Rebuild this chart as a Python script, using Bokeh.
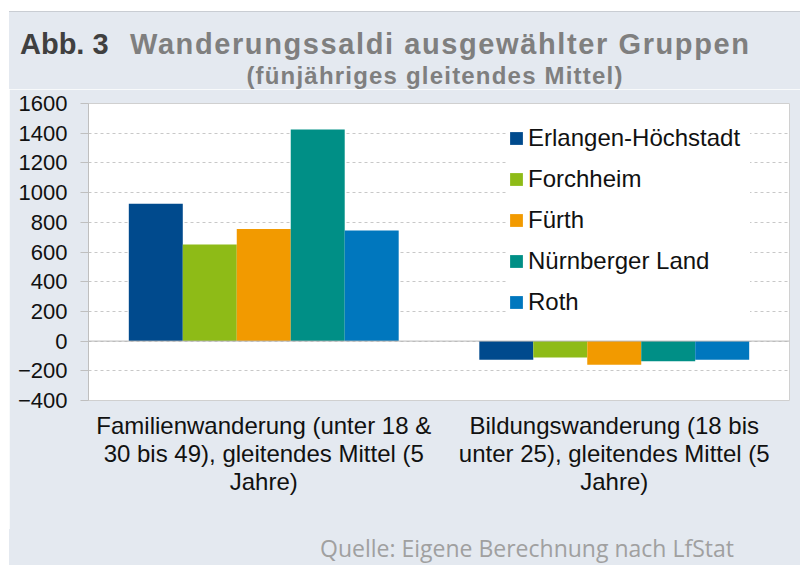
from bokeh.plotting import figure
from bokeh.models import (ColumnDataSource, Range1d, FactorRange, FixedTicker,
                          Span, Legend, LegendItem, Div)
from bokeh.layouts import column
from bokeh.transform import dodge
from bokeh.embed import file_html
from bokeh.resources import INLINE

# ---- data ----
categories = [
    "Familienwanderung (unter 18 &\n30 bis 49), gleitendes Mittel (5\nJahre)",
    "Bildungswanderung (18 bis\nunter 25), gleitendes Mittel (5\nJahre)",
]
series = ["Erlangen-Höchstadt", "Forchheim", "Fürth", "Nürnberger Land", "Roth"]
erlangen = [925, -125]
forchheim = [650, -110]
fuerth = [755, -160]
nuernberger = [1425, -135]
roth = [745, -125]
values = [erlangen, forchheim, fuerth, nuernberger, roth]
colors = ["#004a8d", "#8ebb17", "#f29a00", "#008f86", "#0077be"]
yticks = [-400, -200, 0, 200, 400, 600, 800, 1000, 1200, 1400, 1600]
title_prefix = "Abb. 3"
title_text = "Wanderungssaldi ausgewählter Gruppen"
subtitle_text = "(fünjähriges gleitendes Mittel)"
source_text = "Quelle: Eigene Berechnung nach LfStat"

FONT = "Liberation Sans"
BG = "#e4e9f0"
W = 791
HEAD_H = 78
FOOT_H = 36
FIG_H = 565 - 11 - HEAD_H - FOOT_H

# ---- header ----
header_html = f"""
<div style="position:relative;width:{W}px;height:{HEAD_H}px;overflow:hidden;background:{BG};">
  <div style="position:absolute;left:0;top:0;width:{W}px;height:1px;background:#c9cdd3;"></div>
  <span style="position:absolute;left:11px;top:19px;white-space:nowrap;line-height:1;
    font-family:'{FONT}';font-weight:bold;font-size:29px;color:#404040;">{title_prefix}</span>
  <span style="position:absolute;left:121px;top:19px;white-space:nowrap;line-height:1;letter-spacing:1.6px;
    font-family:'{FONT}';font-weight:bold;font-size:29px;color:#7f7f7f;">{title_text}</span>
  <div style="position:absolute;left:0;top:53px;width:852px;text-align:center;white-space:nowrap;
    line-height:1;letter-spacing:1.2px;font-family:'{FONT}';font-weight:bold;font-size:24px;
    color:#7f7f7f;">{subtitle_text}</div>
</div>
"""
header = Div(text=header_html, width=W, height=HEAD_H, margin=0,
             styles={"background-color": BG})

# ---- chart ----
p = figure(width=W, height=FIG_H, output_backend="svg", toolbar_location=None,
           x_range=FactorRange(factors=categories), y_range=Range1d(-400, 1600),
           min_border_left=79, min_border_right=11, min_border_top=14,
           min_border_bottom=FIG_H - 14 - 297)
p.border_fill_color = BG
p.background_fill_color = "white"
p.outline_line_color = "#d0d0d0"

bw = 0.154
items = []
for i, (name, vals, col) in enumerate(zip(series, values, colors)):
    src = ColumnDataSource(dict(cat=categories, val=vals))
    r = p.vbar(x=dodge("cat", (i - 2) * bw, range=p.x_range), top="val", width=bw,
               source=src, fill_color=col, line_color=None)
    items.append(LegendItem(label=name, renderers=[r]))

p.ygrid.grid_line_color = "#c8c8c8"
p.ygrid.grid_line_dash = "3 3"
p.xgrid.grid_line_color = None
p.add_layout(Span(location=0, dimension="width", line_color="#b5b5b5", line_width=1))

ya = p.yaxis[0]
ya.ticker = FixedTicker(ticks=yticks)
ya.major_label_text_font = FONT
ya.major_label_text_font_size = "22px"
ya.major_label_text_color = "#111111"
ya.major_tick_out = 8
ya.major_tick_in = 0
ya.major_tick_line_color = "#bfbfbf"
ya.axis_line_color = "#bfbfbf"
ya.minor_tick_line_color = None
ya.major_label_standoff = 13

xa = p.xaxis[0]
xa.axis_line_color = None
xa.major_tick_line_color = None
xa.minor_tick_line_color = None
xa.major_label_text_font = FONT
xa.major_label_text_font_size = "24px"
xa.major_label_text_color = "#111111"
xa.major_label_text_line_height = 1.05
xa.major_label_standoff = 5
xa.major_label_orientation = "horizontal"

legend = Legend(items=items, location=(420, 84), orientation="vertical",
                label_text_font=FONT, label_text_font_size="24px", label_text_color="#111111",
                glyph_width=16, glyph_height=16, label_standoff=4, spacing=13,
                padding=21, margin=0, label_height=28, label_width=222,
                border_line_color=None, background_fill_color="white",
                background_fill_alpha=1.0)
p.add_layout(legend)

# ---- footer ----
footer_html = f"""
<div style="position:relative;width:{W}px;height:{FOOT_H}px;overflow:hidden;background:{BG};">
  <span style="position:absolute;left:311px;top:8px;white-space:nowrap;line-height:1;
    font-family:'Open Sans';font-size:23px;color:#a0a0a0;">{source_text}</span>
</div>
"""
footer = Div(text=footer_html, width=W, height=FOOT_H, margin=0,
             styles={"background-color": BG})

layout = column(header, p, footer, margin=(11, 0, 0, 9), spacing=0)

open("out.html", "w").write(file_html(layout, INLINE))
